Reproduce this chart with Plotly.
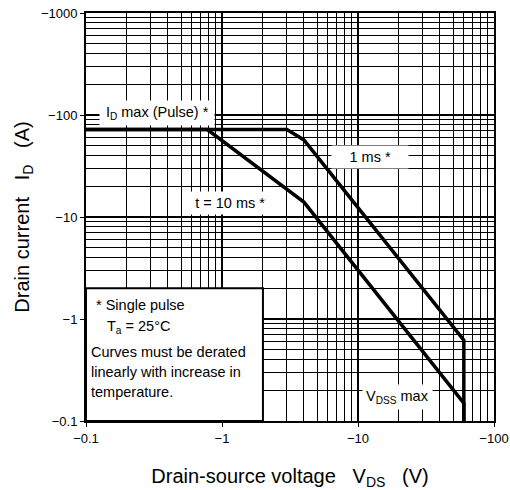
import plotly.graph_objects as go
import numpy as np

# ---- data (magnitudes; axes labelled negative) ----
vds_1ms = [0.1, 3.0, 4.0, 60, 60]
id_1ms = [72, 72, 57, 0.62, 0.1]
vds_10ms = [0.1, 0.78, 4.0, 60, 60]
id_10ms = [72, 72, 14, 0.15, 0.1]

x_tickvals = [0.1, 1, 10, 100]
x_ticktext = ["\u22120.1", "\u22121", "\u221210", "\u2212100"]
y_tickvals = [0.1, 1, 10, 100, 1000]
y_ticktext = ["\u22120.1", "\u22121", "\u221210", "\u2212100", "\u22121000"]

x_minor = [m * d for d in [0.1, 1, 10] for m in range(2, 10)]
y_minor = [m * d for d in [0.1, 1, 10, 100] for m in range(2, 10)]

FONT = "Liberation Sans, Arial, sans-serif"

fig = go.Figure()
fig.add_trace(go.Scatter(x=vds_1ms, y=id_1ms, mode="lines",
                         line=dict(color="black", width=3.5), showlegend=False))
fig.add_trace(go.Scatter(x=vds_10ms, y=id_10ms, mode="lines",
                         line=dict(color="black", width=3.5), showlegend=False))

# white note box in lower-left
fig.add_shape(type="rect", xref="x", yref="y", x0=0.1, x1=2, y0=0.1, y1=2,
              fillcolor="white", line=dict(color="black", width=2), layer="above")

def ann(text, x, y, size=14.5, xanchor="center", bg="white", pad=3):
    fig.add_annotation(text=text, x=np.log10(x), y=np.log10(y), xref="x", yref="y",
                       showarrow=False, xanchor=xanchor, yanchor="middle",
                       font=dict(family=FONT, size=size, color="black"),
                       bgcolor=bg, borderpad=pad)

ann("\u2009I<sub>D</sub> max (Pulse) *\u2009", 0.33, 104)
ann("\u2002\u20021 ms *\u2002\u2002", 12.2, 38.7)
ann("\u2002t = 10 ms *\u2002", 1.15, 13.7)
ann("V<sub>DSS</sub> max", 19.4, 0.172)

clear = "rgba(0,0,0,0)"
ann("* Single pulse", 0.1155, 1.37, xanchor="left", bg=clear, pad=0)
ann("T<sub>a</sub> = 25\u00b0C", 0.140, 0.835, xanchor="left", bg=clear, pad=0)
ann("Curves must be derated", 0.1075, 0.474, xanchor="left", bg=clear, pad=0)
ann("linearly with increase in", 0.1075, 0.302, xanchor="left", bg=clear, pad=0)
ann("temperature.", 0.1075, 0.192, xanchor="left", bg=clear, pad=0)

axis_common = dict(type="log", showgrid=True, gridcolor="black", gridwidth=2,
                   showline=True, linecolor="black", linewidth=2, mirror=True,
                   ticks="outside", ticklen=4, tickcolor="black", zeroline=False,
                   automargin=False,
                   tickfont=dict(family=FONT, size=13, color="black"))

fig.update_layout(
    width=510, height=490,
    margin=dict(l=86, r=16, t=13, b=69),
    paper_bgcolor="white", plot_bgcolor="white",
    xaxis=dict(axis_common, range=[-1, 2], tickmode="array",
               tickvals=x_tickvals, ticktext=x_ticktext,
               minor=dict(tickmode="array", tickvals=x_minor, showgrid=True,
                          gridcolor="black", gridwidth=1, ticks=""),
               title=dict(text="Drain-source voltage   V<sub>DS</sub>   (V)",
                          font=dict(family=FONT, size=20, color="black"), standoff=25)),
    yaxis=dict(axis_common, range=[-1, 3], tickmode="array",
               tickvals=y_tickvals, ticktext=y_ticktext,
               minor=dict(tickmode="array", tickvals=y_minor, showgrid=True,
                          gridcolor="black", gridwidth=1, ticks=""),
               title=dict(text="Drain current   I<sub>D</sub>   (A)",
                          font=dict(family=FONT, size=20, color="black"), standoff=6)),
)

fig.write_html("out.html")
